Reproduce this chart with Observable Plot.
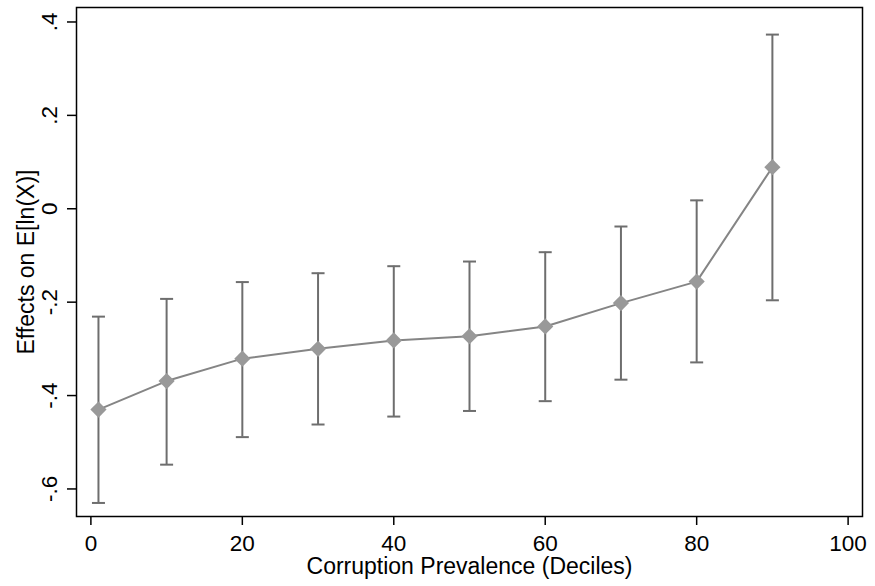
<!DOCTYPE html>
<html><head><meta charset="utf-8">
<script src="https://cdn.jsdelivr.net/npm/d3@7"></script>
<script src="https://cdn.jsdelivr.net/npm/@observablehq/plot@0.6"></script>
<style>body{margin:0;background:#fff;} svg{display:block;}</style>
</head><body><div id="chart"></div>
<script>
// Data
const deciles = [1, 10, 20, 30, 40, 50, 60, 70, 80, 90];
const estimates = [-0.430, -0.369, -0.321, -0.300, -0.282, -0.273, -0.252, -0.202, -0.156, 0.089];
const lower = [-0.630, -0.548, -0.489, -0.462, -0.445, -0.433, -0.412, -0.366, -0.329, -0.196];
const upper = [-0.231, -0.193, -0.157, -0.138, -0.123, -0.113, -0.093, -0.038, 0.018, 0.373];

const xTicks = [0, 20, 40, 60, 80, 100];
const yTicks = [-0.6, -0.4, -0.2, 0, 0.2, 0.4];
const yTickLabels = ["-.6", "-.4", "-.2", "0", ".2", ".4"];
const xLabel = "Corruption Prevalence (Deciles)";
const yLabel = "Effects on E[ln(X)]";

const data = deciles.map((x, i) => ({x, est: estimates[i], lo: lower[i], hi: upper[i]}));

const capSymbol = {
  draw(ctx, size) {
    const r = Math.sqrt(size / Math.PI);
    ctx.moveTo(-r, 0);
    ctx.lineTo(r, 0);
  }
};

const barColor = "#6e6e6e";
const font = "'Liberation Sans', Arial, Helvetica, sans-serif";
const fs = 22.5;
const titleFs = 23;

const chart = Plot.plot({
  width: 875,
  height: 586,
  marginLeft: 76,
  marginRight: 13,
  marginTop: 7,
  marginBottom: 70,
  x: {domain: [-1.9, 101.9]},
  y: {domain: [-0.659, 0.431]},
  style: {fontFamily: font, fontSize: fs + "px", background: "#fff", color: "#000"},
  marks: [
    Plot.ruleX(data, {x: "x", y1: "lo", y2: "hi", stroke: barColor, strokeWidth: 2}),
    Plot.dot(data, {x: "x", y: "lo", symbol: capSymbol, r: 6.5, stroke: barColor, strokeWidth: 2, fill: "none"}),
    Plot.dot(data, {x: "x", y: "hi", symbol: capSymbol, r: 6.5, stroke: barColor, strokeWidth: 2, fill: "none"}),
    Plot.line(data, {x: "x", y: "est", stroke: "#858585", strokeWidth: 2}),
    Plot.dot(data, {x: "x", y: "est", symbol: "diamond2", r: 7.3, fill: "#999999", stroke: "none"}),
    Plot.frame({stroke: "#000", strokeWidth: 1.5}),
    Plot.axisX({ticks: xTicks, tickSize: 9, tickPadding: 10, strokeWidth: 1.5, label: null, tickFormat: d => String(d), fontSize: fs}),
    Plot.axisY({ticks: yTicks, tickSize: 9, strokeWidth: 1.5, label: null, tickFormat: () => ""}),
    Plot.text(yTicks, {y: d => d, text: (d, i) => yTickLabels[i], frameAnchor: "left", textAnchor: "middle", lineAnchor: "middle", dx: -26.5, rotate: -90, fontSize: fs, fill: "#000"}),
    Plot.text([yLabel], {text: d => d, frameAnchor: "left", textAnchor: "middle", lineAnchor: "middle", dx: -50, rotate: -90, fontSize: titleFs, fill: "#000"}),
    Plot.text([xLabel], {text: d => d, frameAnchor: "bottom", textAnchor: "middle", lineAnchor: "middle", dy: 50, fontSize: titleFs, fill: "#000"})
  ]
});
document.getElementById("chart").appendChild(chart);
</script>
</body></html>
